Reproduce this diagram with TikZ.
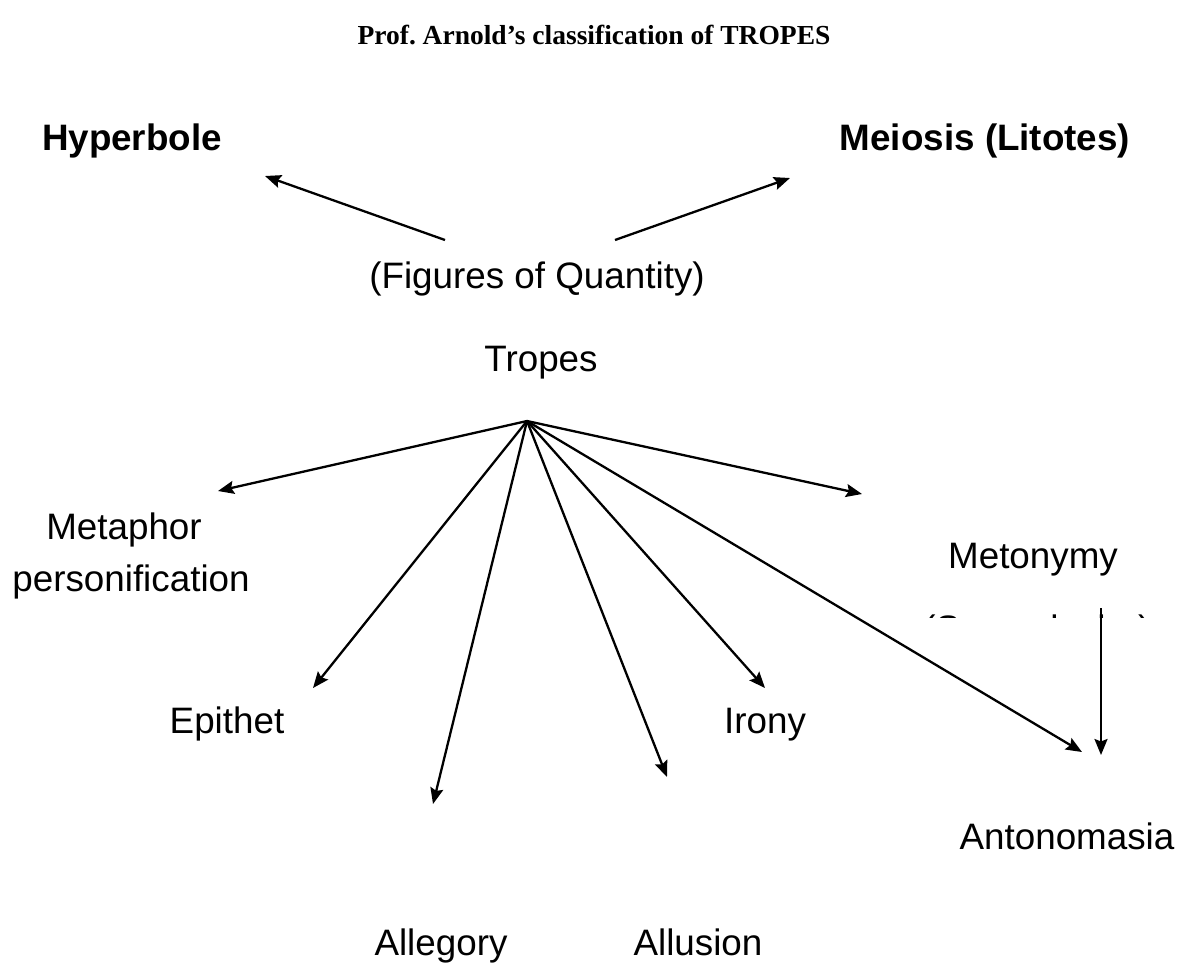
\documentclass[tikz,border=0pt]{standalone}
\usepackage{fontspec}
\setmainfont{Liberation Sans}
\newfontfamily\titlefont{Liberation Serif}
\usetikzlibrary{arrows.meta}
\frenchspacing

\tikzset{
  label text/.style={inner sep=0pt, anchor=base, font=\fontsize{36.8}{44}\selectfont},
  bold label/.style={label text, font=\fontsize{36.8}{44}\selectfont\bfseries},
  branch/.style={line width=2.3pt, -{Stealth[length=16pt,width=13pt,inset=2.5pt]}},
}

\begin{document}
\begin{tikzpicture}[x=1pt,y=-1pt]
  \useasboundingbox (0,0) rectangle (1189,962);

  % heading
  \node[inner sep=0pt, anchor=base, font=\titlefont\fontsize{27.5}{33}\selectfont\bfseries]
    (title) at (594,44) {Prof.\ Arnold’s classification of TROPES};

  % figures of quantity
  \node[bold label] (hyper) at (132,150) {Hyperbole};
  \node[bold label] (meiosis) at (985,150) {Meiosis (Litotes)};
  \node[label text] (quantity) at (537,288) {(Figures of Quantity)};
  \node[label text] (tropes) at (541,371) {Tropes};

  % kinds of tropes
  \node[label text] (metaphor) at (124,539) {Metaphor};
  \node[label text] (personif) at (131,591) {personification};
  \node[label text] (metonymy) at (1033,568) {Metonymy};
  \node[label text] (epithet) at (227,733) {Epithet};
  \node[label text] (irony) at (765,733) {Irony};
  \node[label text] (antonomasia) at (1067,849) {Antonomasia};
  \node[label text] (allegory) at (441,955) {Allegory};
  \node[label text] (allusion) at (698,955) {Allusion};

  % second line under Metonymy, covered except for its top edge
  \begin{scope}
    \clip (880,610) rectangle (1189,617);
    \node[label text] (synecdoche) at (1037,641) {(Synecdoche)};
  \end{scope}

  % arrow ends
  \coordinate (qleft) at (445,240);
  \coordinate (qright) at (615,240);
  \coordinate (hyperTip) at (265,176);
  \coordinate (meiosisTip) at (790,178);
  \coordinate (hub) at (527,421);
  \coordinate (metaphorTip) at (218,491);
  \coordinate (epithetTip) at (313,688);
  \coordinate (allegoryTip) at (433,804);
  \coordinate (allusionTip) at (667,777);
  \coordinate (ironyTip) at (765,688);
  \coordinate (antonTip) at (1082,752);
  \coordinate (metonymyTip) at (862,494);
  \coordinate (synTop) at (1101,608);
  \coordinate (synTip) at (1101,755);

  \draw[branch] (qleft) -- (hyperTip);
  \draw[branch] (qright) -- (meiosisTip);

  \draw[branch] (hub) -- (metaphorTip);
  \draw[branch] (hub) -- (epithetTip);
  \draw[branch] (hub) -- (allegoryTip);
  \draw[branch] (hub) -- (allusionTip);
  \draw[branch] (hub) -- (ironyTip);
  \draw[branch] (hub) -- (antonTip);
  \draw[branch] (hub) -- (metonymyTip);
  \draw[branch] (synTop) -- (synTip);
\end{tikzpicture}
\end{document}
